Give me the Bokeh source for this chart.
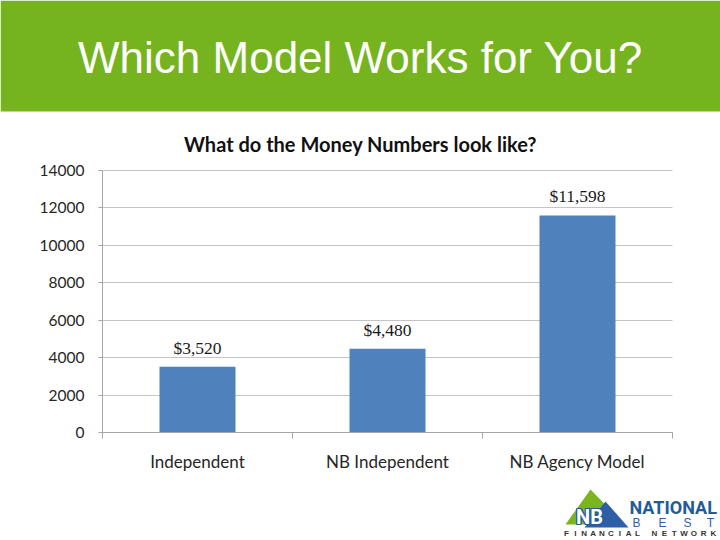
import numpy as np
from bokeh.plotting import figure
from bokeh.models import Range1d, FixedTicker
from bokeh.core.properties import value
from bokeh.embed import file_html
from bokeh.resources import INLINE

# ---- data ----
categories = ["Independent", "NB Independent", "NB Agency Model"]
values = [3520, 4480, 11598]
value_labels = ["$3,520", "$4,480", "$11,598"]
y_ticks = [0, 2000, 4000, 6000, 8000, 10000, 12000, 14000]
slide_title = "Which Model Works for You?"
chart_title = "What do the Money Numbers look like?"

GREEN = "#76B41F"
BAR = "#4F81BD"
AXIS = "#a6a6a6"
GRID = "#c4c4c4"
TXT = "#262626"

W, H = 720, 540
# where the value axes sit on the page (pixels)
FL, FR, FT, FB = 102, 672, 170, 432
n = len(categories)
ymax = y_ticks[-1]
xs_per_px = n / (FR - FL)
ys_per_px = ymax / (FB - FT)

centers = [i + 0.5 for i in range(n)]
bounds = list(range(n + 1))

p = figure(width=W, height=H,
           x_range=Range1d(-FL * xs_per_px, n + (W - FR) * xs_per_px),
           y_range=Range1d(-(H - FB) * ys_per_px, ymax + FT * ys_per_px),
           output_backend="svg", toolbar_location=None, min_border=0,
           title=None)
p.outline_line_color = None
p.background_fill_color = "white"

# page-pixel coordinate system for the slide decoration
p.extra_x_ranges = {"px": Range1d(0, W)}
p.extra_y_ranges = {"py": Range1d(H, 0)}
PX = dict(x_range_name="px", y_range_name="py")

# grid
p.xgrid.visible = False
p.ygrid.grid_line_color = GRID
p.ygrid.bounds = (0, ymax)
p.ygrid.cross_bounds = (0, n)

# bars and value labels
p.vbar(x=centers, top=values, width=0.4, fill_color=BAR, line_color=None)
p.text(x=centers, y=values, text=value_labels, text_align="center",
       text_baseline="middle", y_offset=-19,
       text_font=value("Liberation Serif"), text_font_size="17.5px",
       text_color="#1a1a1a")

xa = p.xaxis[0]
xa.fixed_location = 0
xa.bounds = (0, n)
xa.ticker = FixedTicker(ticks=centers, minor_ticks=bounds)
xa.major_label_overrides = {c: cat for c, cat in zip(centers, categories)}
xa.major_tick_line_color = None
xa.major_tick_out = 0
xa.minor_tick_line_color = AXIS
xa.minor_tick_out = 6
xa.minor_tick_in = 0
xa.axis_line_color = AXIS
xa.major_label_text_font = "Lato"
xa.major_label_text_font_size = "17px"
xa.major_label_text_color = TXT
xa.major_label_standoff = 12

ya = p.yaxis[0]
ya.fixed_location = 0
ya.bounds = (0, ymax)
ya.ticker = FixedTicker(ticks=y_ticks)
ya.major_label_overrides = {t: str(t) for t in y_ticks}
ya.major_tick_out = 4
ya.major_tick_in = 0
ya.major_tick_line_color = AXIS
ya.minor_tick_line_color = None
ya.axis_line_color = AXIS
ya.major_label_text_font = "Lato"
ya.major_label_text_font_size = "15.5px"
ya.major_label_text_color = TXT
ya.major_label_standoff = 14

# ---- header band and titles ----
p.quad(left=0, right=W, top=0, bottom=111, fill_color=GREEN,
       line_color=None, **PX)
p.text(x=[360], y=[57], text=[slide_title], text_align="center",
       text_baseline="middle", text_font=value("Liberation Sans"),
       text_font_size="44px", text_color="white", **PX)
p.text(x=[360], y=[143], text=[chart_title], text_align="center",
       text_baseline="middle", text_font=value("Lato"),
       text_font_style="bold", text_font_size="20px", text_color="#111111",
       **PX)

# ---- logo ----
p.patch(x=[565, 590, 624], y=[524, 489, 524], fill_color="#7AB51D",
        line_color=None, **PX)
p.patch(x=[584, 605, 628], y=[527, 501, 527], fill_color="#2D5FA8",
        line_color=None, **PX)
for dx, dy in [(-1, 0), (1, 0), (0, -1), (0, 1), (-1, -1), (1, 1), (-1, 1), (1, -1)]:
    p.text(x=[589 + dx], y=[516 + dy], text=["NB"], text_align="center",
           text_baseline="middle", text_font=value("Roboto"),
           text_font_style="bold", text_font_size="20px",
           text_color="#1F5C99", **PX)
p.text(x=[589], y=[516], text=["NB"], text_align="center",
       text_baseline="middle", text_font=value("Roboto"),
       text_font_style="bold", text_font_size="20px", text_color="white",
       **PX)
p.text(x=[629], y=[507], text=["NATIONAL"], text_align="left",
       text_baseline="middle", text_font=value("Roboto"),
       text_font_style="bold", text_font_size="18px", text_color="#1F5C99",
       **PX)
p.text(x=[636, 662, 687, 710], y=[522] * 4, text=list("BEST"),
       text_align="center", text_baseline="middle",
       text_font=value("Liberation Sans"), text_font_size="12px",
       text_color="#2D5FA8", **PX)
fin = list("FINANCIAL")
net = list("NETWORK")
p.text(x=list(np.linspace(566, 637, len(fin))) + list(np.linspace(654, 713, len(net))),
       y=[533] * (len(fin) + len(net)), text=fin + net, text_align="center",
       text_baseline="middle", text_font=value("Liberation Sans"),
       text_font_style="bold", text_font_size="8px", text_color="#333333",
       **PX)

open("out.html", "w").write(file_html(p, INLINE))
